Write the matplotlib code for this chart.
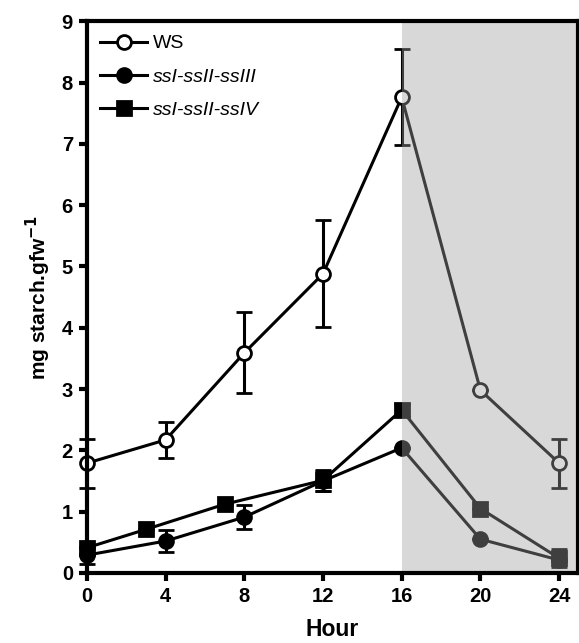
import matplotlib.pyplot as plt

plt.rcParams['font.family'] = ['Liberation Sans', 'DejaVu Sans']

# WS (open circles)
wsHours = [0, 4, 8, 12, 16, 20, 24]
wsStarch = [1.79, 2.17, 3.59, 4.88, 7.76, 2.98, 1.79]
wsErr = [0.40, 0.30, 0.66, 0.87, 0.78, 0.0, 0.40]

# ssI-ssII-ssIII (filled circles)
s3Hours = [0, 4, 8, 12, 16, 20, 24]
s3Starch = [0.29, 0.52, 0.91, 1.50, 2.04, 0.55, 0.21]
s3Err = [0.15, 0.18, 0.19, 0.17, 0.0, 0.0, 0.0]

# ssI-ssII-ssIV (filled squares)
s4Hours = [0, 3, 7, 12, 16, 20, 24]
s4Starch = [0.41, 0.71, 1.12, 1.51, 2.66, 1.05, 0.24]
s4Err = [0.0, 0.0, 0.0, 0.17, 0.10, 0.0, 0.15]

xTicks = [0, 4, 8, 12, 16, 20, 24]
yTicks = [0, 1, 2, 3, 4, 5, 6, 7, 8, 9]
nightStart = 16
nightEnd = 25


def main():
    fig = plt.figure(figsize=(5.79, 6.43), dpi=100)
    ax = fig.add_axes([0.150, 0.109, 0.848, 0.858])

    lw = 2.2
    common = dict(color='black', lw=lw, capsize=6, capthick=lw, elinewidth=lw,
                  clip_on=False, markeredgewidth=2)
    ws = ax.errorbar(wsHours, wsStarch, yerr=wsErr, marker='o', markersize=10,
                     markerfacecolor='white', markeredgecolor='black',
                     zorder=4, **common)
    s3 = ax.errorbar(s3Hours, s3Starch, yerr=s3Err, marker='o', markersize=10,
                     markerfacecolor='black', zorder=3, **common)
    s4 = ax.errorbar(s4Hours, s4Starch, yerr=s4Err, marker='s', markersize=10,
                     markerfacecolor='black', zorder=3, **common)

    # dark period overlay, drawn on top of the data like the original
    ax.axvspan(nightStart, nightEnd, color=(0.625, 0.625, 0.625), alpha=0.4,
               lw=0, zorder=6)

    ax.set_xlim(0, 24.95)
    ax.set_ylim(0, 9)
    ax.set_xticks(xTicks)
    ax.set_yticks(yTicks)

    for side in ['left', 'bottom', 'top', 'right']:
        ax.spines[side].set_linewidth(3)
        ax.spines[side].set_zorder(7)
    ax.tick_params(direction='out', length=6, width=3, labelsize=14.5, pad=4)
    for lab in ax.get_xticklabels() + ax.get_yticklabels():
        lab.set_fontweight('bold')

    ax.set_xlabel('Hour', fontsize=16.5, fontweight='bold', labelpad=9)
    ax.set_ylabel('mg starch.gfw$^{\\mathbf{-1}}$', fontsize=15,
                  fontweight='bold', labelpad=6)

    # legend shows only line + marker, no error bars
    leg = ax.legend([ws[0], s3[0], s4[0]],
                    ['WS', 'ssI-ssII-ssIII', 'ssI-ssII-ssIV'],
                    loc='upper left', frameon=False, fontsize=14,
                    handlelength=2.4, handletextpad=0.3, labelspacing=0.8,
                    borderaxespad=0.3, bbox_to_anchor=(0.0, 1.0))
    for i, t in enumerate(leg.get_texts()):
        if i > 0:
            t.set_fontstyle('italic')

    fig.savefig('out.png', dpi=100)


if __name__ == "__main__":
    main()
